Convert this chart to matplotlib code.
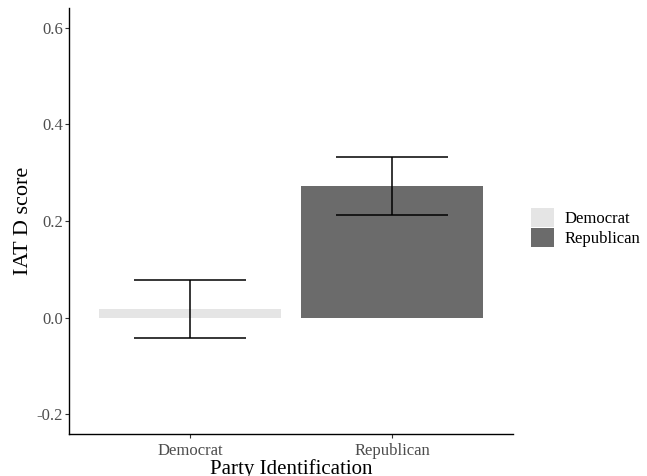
import matplotlib
matplotlib.use("Agg")
import matplotlib.pyplot as plt
from matplotlib.patches import Patch

# mean IAT D score per party with error bar limits
parties = ["Democrat", "Republican"]
means = [0.017, 0.273]
lower = [-0.042, 0.213]
upper = [0.077, 0.332]
colors = ["#e5e5e5", "#6b6b6b"]
yticks = [-0.2, 0.0, 0.2, 0.4, 0.6]

plt.rcParams["font.family"] = ["Liberation Serif", "DejaVu Serif"]

fig = plt.figure(figsize=(6.47, 4.76), dpi=100)
ax = fig.add_axes([0.1066, 0.0882, 0.6864, 0.8948])

x = [1, 2]
ax.bar(x, means, width=0.9, color=colors, zorder=1)
yerr = [[m - lo for m, lo in zip(means, lower)], [hi - m for m, hi in zip(means, upper)]]
ax.errorbar(x, means, yerr=yerr, fmt="none", ecolor="black", elinewidth=1.1,
            capsize=40, capthick=1.1, zorder=2)

ax.set_xlim(0.4, 2.6)
ax.set_ylim(-0.241, 0.641)
ax.set_xticks(x)
ax.set_xticklabels(parties)
ax.set_yticks(yticks)
ax.set_yticklabels([f"{v:.1f}" for v in yticks])
ax.tick_params(labelsize=12, labelcolor="#4d4d4d", color="#333333", length=3, width=0.8)
ax.tick_params(axis="y", pad=1.2)

for side in ["top", "right"]:
    ax.spines[side].set_visible(False)
for side in ["left", "bottom"]:
    ax.spines[side].set_linewidth(1.0)
    ax.spines[side].set_color("black")

ax.set_xlabel("Party Identification", fontsize=15, labelpad=0)
ax.set_ylabel("IAT D score", fontsize=16, labelpad=3)

handles = [Patch(facecolor=c, edgecolor="none") for c in colors]
fig.legend(handles, parties, loc="center left", bbox_to_anchor=(0.81, 0.522),
           frameon=False, fontsize=12, handlelength=1.4, handleheight=1.4,
           handletextpad=0.6, labelspacing=0.05, borderaxespad=0)

fig.savefig("out.png", dpi=100)
